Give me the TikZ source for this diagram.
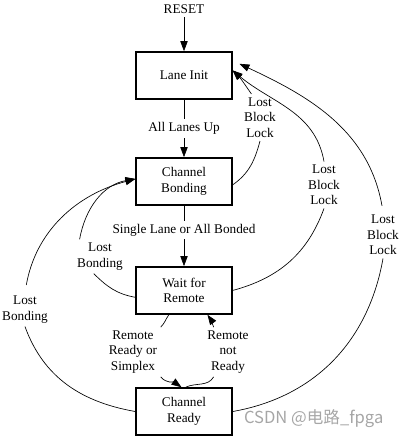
\documentclass[tikz,border=0pt]{standalone}
\usepackage{fontspec}
\setmainfont{Liberation Serif}
\newfontfamily\cjkfont{Noto Sans CJK SC}
\usetikzlibrary{positioning, arrows.meta}

\begin{document}
\begin{tikzpicture}[x=0.0265cm, y=0.0265cm, font=\fontsize{10}{11.7}\selectfont]
	\tikzset{
		state/.style={draw, line width=1.1pt, minimum width=2.54cm, minimum height=1.25cm, align=center},
		cond/.style={align=center, inner sep=2.5pt},
		trans/.style={-{Triangle[length=7.5pt, width=5.5pt]}, line width=0.5pt},
	}
	\useasboundingbox (0,0) rectangle (402,-438);
	
	% States
	\node[state] (init) at (184,-75.5) {Lane Init};
	\node[state, below=1.52cm of init] (bond) {Channel\\Bonding};
	\node[state, below=1.60cm of bond] (wait) {Wait for\\Remote};
	\node[state, below=1.92cm of wait] (ready) {Channel\\Ready};
	
	% Condition labels
	\node[cond] (reset) at (184,-9) {RESET};
	\node[cond] (lbl1) at (260,-117.5) {Lost\\Block\\Lock};
	\node[cond] (lbl2) at (324,-185) {Lost\\Block\\Lock};
	\node[cond] (lbl3) at (383,-235) {Lost\\Block\\Lock};
	\node[cond] (lb1) at (100,-256.5) {Lost\\Bonding};
	\node[cond] (lb2) at (25,-309.5) {Lost\\Bonding};
	\node[cond] (rrs) at (133,-352) {Remote\\Ready or\\Simplex};
	\node[cond] (rnr) at (228,-352) {Remote\\not\\Ready};
	
	% Straight transitions
	\draw[trans] (reset) -- (init);
	\draw[trans] (init) -- node[cond, fill=white] (up) {All Lanes Up} (bond);
	\draw[trans] (bond) -- node[cond, fill=white, pos=0.4] (single) {Single Lane or All Bonded} (wait);
	
	% Lost Block Lock back to Lane Init
	\draw[trans] (bond.-4) to[out=35, in=-105] (lbl1.south)
		(lbl1.110) to[out=125, in=-45] (init.6);
	\draw[trans] (wait.east) to[out=15, in=-110] (lbl2.south)
		(lbl2.north) to[out=100, in=-40] (init.6);
	\draw[trans, shorten <=0.15cm, shorten >=0.2cm] (ready.east) to[out=10, in=-100] (lbl3.south)
		(lbl3.north) to[out=100, in=-25] (init.17);
	
	% Lost Bonding back to Channel Bonding
	\draw[trans] (wait.188) to[out=170, in=-45] (lb1.250)
		(lb1.140) to[out=80, in=-170] (bond.177);
	\draw[trans, shorten <=0.2cm] (ready.west) to[out=170, in=-70] (lb2.south)
		(lb2.north) to[out=80, in=-165] (bond.177);
	
	% Remote handshake
	\draw[trans] (wait.238) to[out=-125, in=45] (rrs.north east)
		(rrs.south east) to[out=-50, in=145] (ready.96);
	\draw[trans] (ready.86) to[out=25, in=-120] (rnr.240)
		(rnr.120) to[out=110, in=-55] (wait.-46);
	
	% Watermark
	\node[font=\cjkfont\fontsize{12.5}{14}\selectfont, text=black!35, anchor=east] (wm) at (388,-419) {CSDN @电路\_fpga};
\end{tikzpicture}
\end{document}
